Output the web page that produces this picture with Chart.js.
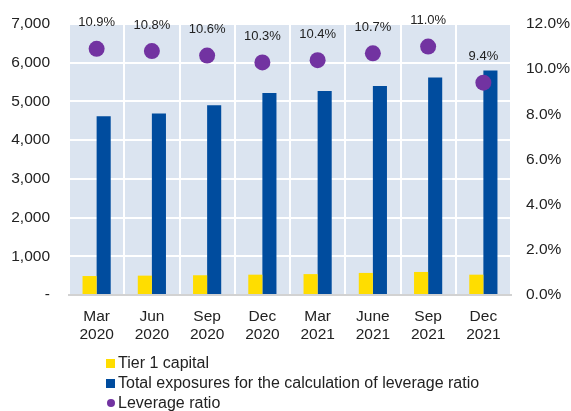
<!DOCTYPE html>
<html>
<head>
<meta charset="utf-8">
<script src="https://cdn.jsdelivr.net/npm/chart.js@4/dist/chart.umd.min.js"></script>
<style>
  html, body { margin: 0; padding: 0; background: #fff; }
  #wrap { position: relative; width: 571px; height: 411px; }
  #legend { position: absolute; left: 106px; top: 353px; font: 16px "Liberation Sans", Arial, sans-serif; color: #222; }
  .row { height: 20px; display: flex; align-items: center; white-space: nowrap; }
  .sw { width: 9px; height: 9px; margin-right: 3px; }
  .dot { width: 8px; height: 8px; border-radius: 50%; margin-left: 1px; margin-right: 3px; }
</style>
</head>
<body>
<div id="wrap">
  <canvas id="c" width="571" height="411"></canvas>
  <div id="legend"></div>
</div>
<script>
// Quarter labels (two lines each)
const quarters = [
  ["Mar", "2020"], ["Jun", "2020"], ["Sep", "2020"], ["Dec", "2020"],
  ["Mar", "2021"], ["June", "2021"], ["Sep", "2021"], ["Dec", "2021"]
];
// Amounts (left axis)
const tier1Capital   = [490, 500, 510, 525, 540, 570, 595, 525];
const totalExposures = [4620, 4690, 4900, 5220, 5270, 5400, 5620, 5800];
// Leverage ratio in percent (right axis)
const leverageRatio  = [10.9, 10.8, 10.6, 10.3, 10.4, 10.7, 11.0, 9.4];

const seriesNames = ["Tier 1 capital", "Total exposures for the calculation of leverage ratio", "Leverage ratio"];
const COLORS = { yellow: "#FFDD00", blue: "#004C9E", purple: "#7233A1", plotBg: "#DBE4F0", text: "#222222" };
const FONT = "'Liberation Sans', Arial, sans-serif";

// Light blue fill behind the plotting area
const plotBackground = {
  id: "plotBackground",
  beforeDraw(chart) {
    const { ctx, chartArea: a } = chart;
    ctx.save();
    ctx.fillStyle = COLORS.plotBg;
    ctx.fillRect(a.left, a.top, a.right - a.left, a.bottom - a.top);
    ctx.restore();
  }
};

// Percentage labels above each ratio point
const ratioLabels = {
  id: "ratioLabels",
  afterDatasetsDraw(chart) {
    const meta = chart.getDatasetMeta(2);
    const ctx = chart.ctx;
    ctx.save();
    ctx.font = "13px " + FONT;
    ctx.fillStyle = COLORS.text;
    ctx.textAlign = "center";
    ctx.textBaseline = "middle";
    meta.data.forEach((pt, i) => {
      ctx.fillText(leverageRatio[i].toFixed(1) + "%", pt.x, pt.y - 26);
    });
    ctx.restore();
  }
};

// Fixed axis sizes so the plot area sits at a set place
const fixVertical = (w) => (s) => { s.width = w; s.paddingTop = 0; s.paddingBottom = 0; };

new Chart(document.getElementById("c"), {
  type: "bar",
  data: {
    labels: quarters,
    datasets: [
      { label: seriesNames[0], data: tier1Capital, backgroundColor: COLORS.yellow, yAxisID: "y", order: 1,
        barPercentage: 1, categoryPercentage: 0.51 },
      { label: seriesNames[1], data: totalExposures, backgroundColor: COLORS.blue, yAxisID: "y", order: 1,
        barPercentage: 1, categoryPercentage: 0.51 },
      { type: "line", label: seriesNames[2], data: leverageRatio, yAxisID: "y1", order: 0,
        showLine: false, pointRadius: 8, pointHoverRadius: 8, pointBorderWidth: 0,
        backgroundColor: COLORS.purple, borderColor: COLORS.purple }
    ]
  },
  options: {
    responsive: false,
    animation: false,
    events: [],
    layout: { padding: { top: 24, right: 0, bottom: 66, left: 0 } },
    plugins: { legend: { display: false }, tooltip: { enabled: false } },
    scales: {
      x: {
        grid: { color: "#ffffff", lineWidth: 2, drawTicks: false, offset: true },
        border: { color: "#D2D2D2", width: 2 },
        ticks: { color: COLORS.text, font: { family: FONT, size: 15.5, lineHeight: 1.2 }, padding: 12, maxRotation: 0, autoSkip: false },
        afterFit(s) { s.height = 50; s.paddingLeft = 0; s.paddingRight = 0; }
      },
      y: {
        position: "left",
        min: 0, max: 7000,
        grid: {
          color: (c) => (c.tick && c.tick.value === 0 ? "rgba(0,0,0,0)" : "#ffffff"),
          lineWidth: 2, drawTicks: false
        },
        border: { display: false },
        ticks: {
          stepSize: 1000, padding: 19, color: COLORS.text, font: { family: FONT, size: 15.5 },
          callback: (v) => (v === 0 ? "-" : v.toLocaleString("en-US"))
        },
        afterFit: fixVertical(69)
      },
      y1: {
        position: "right",
        min: 0, max: 12,
        grid: { display: false, drawTicks: false },
        border: { display: false },
        ticks: {
          stepSize: 2, padding: 15, color: COLORS.text, font: { family: FONT, size: 15.5 },
          callback: (v) => v.toFixed(1) + "%"
        },
        afterFit: fixVertical(60)
      }
    }
  },
  plugins: [plotBackground, ratioLabels]
});

// Legend below the chart
const legend = document.getElementById("legend");
const markers = [
  { cls: "sw", color: COLORS.yellow },
  { cls: "sw", color: COLORS.blue },
  { cls: "dot", color: COLORS.purple }
];
seriesNames.forEach((name, i) => {
  const row = document.createElement("div");
  row.className = "row";
  const m = document.createElement("span");
  m.className = markers[i].cls;
  m.style.background = markers[i].color;
  const t = document.createElement("span");
  t.textContent = name;
  row.appendChild(m);
  row.appendChild(t);
  legend.appendChild(row);
});
</script>
</body>
</html>
